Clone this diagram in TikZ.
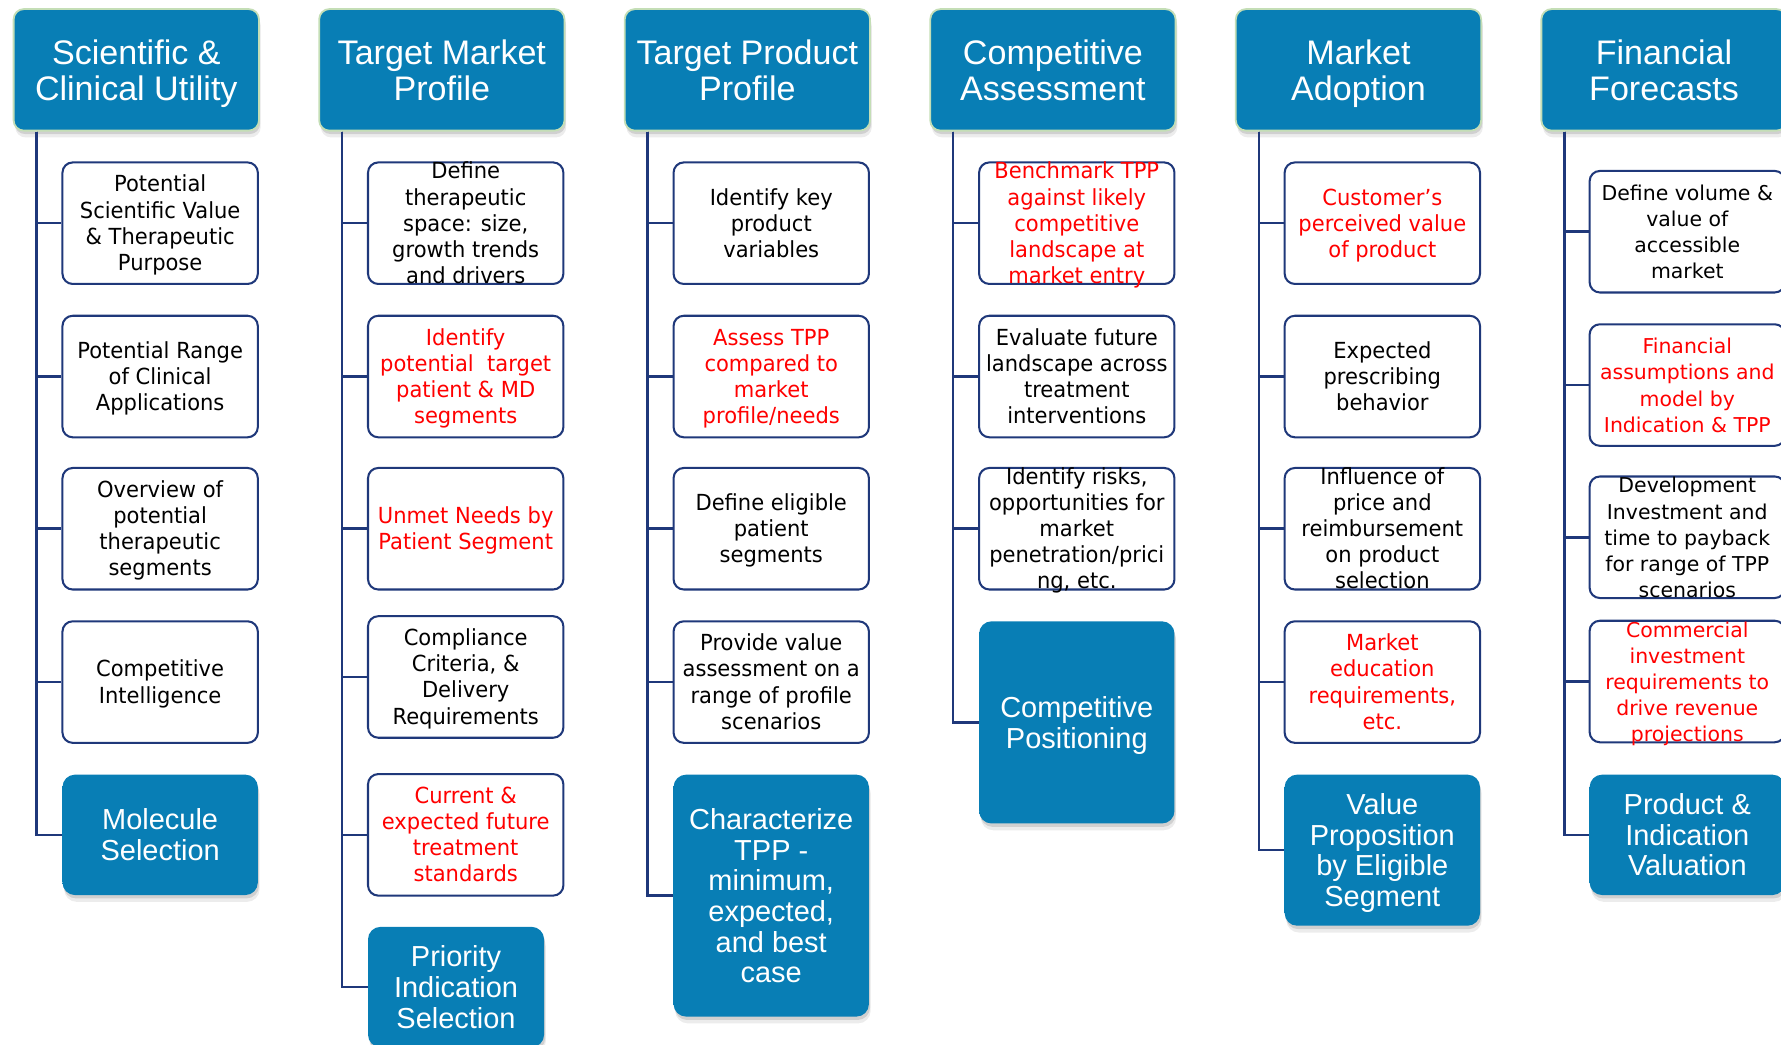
\documentclass[tikz,border=0pt]{standalone}
\usepackage{fontspec}
\setmainfont{Liberation Sans}
\newfontfamily\taskfam{DejaVu Sans}[FakeStretch=0.95]
\newfontfamily\widefam{DejaVu Sans}
\usetikzlibrary{shadows}

\definecolor{hblue}{RGB}{8,126,181}
\definecolor{hblueD}{RGB}{6,108,158}
\definecolor{hblueL}{RGB}{52,165,222}
\definecolor{rim}{RGB}{196,222,182}
\definecolor{navy}{RGB}{31,56,122}
\definecolor{alert}{RGB}{255,0,0}

\pgfdeclareverticalshading{tileshade}{100bp}{%
  color(0bp)=(hblueD); color(5bp)=(hblue); color(93bp)=(hblue);
  color(97bp)=(hblueL); color(100bp)=(hblueL)}

\newcommand\hdrfont{\fontsize{30}{32}\selectfont}
\newcommand\goalfont{\fontsize{25.5}{27}\selectfont}
\newcommand\taskfont{\taskfam\fontsize{19.5}{23}\selectfont}
\newcommand\widefont{\widefam\fontsize{18}{23}\selectfont}

% centred lines on a fixed pitch: every line box is #1 high and #2 deep,
% #3 is extra space on top, #4 the lines separated by \\
\newcommand\linestack[4]{%
  \vbox{\offinterlineskip\kern#3\relax
    \def\\{\cr}%
    \halign{\hfil\rule[-#2]{0pt}{\dimexpr#1+#2\relax}##\hfil\cr#4\crcr}}}
\newcommand\hstack[1]{\linestack{25pt}{7pt}{4pt}{#1}}
\newcommand\gstack[1]{\linestack{21.5pt}{5.5pt}{2.4pt}{#1}}
\newcommand\tstack[1]{\linestack{18pt}{5pt}{1pt}{#1}}

\tikzset{
  softshadow/.style={
    drop shadow={shadow xshift=1pt, shadow yshift=-3pt, opacity=0.18, fill=black!70},
    drop shadow={shadow xshift=1.5pt, shadow yshift=-6pt, opacity=0.12, fill=black!60}},
  hdr/.style={rounded corners=9pt, minimum width=216pt, minimum height=107pt,
    shading=tileshade, draw=rim, line width=1.6pt, text=white, font=\hdrfont,
    inner sep=0pt, softshadow},
  goal/.style={rounded corners=11pt, shading=tileshade, text=white,
    font=\goalfont, inner sep=0pt, softshadow},
  taskbox/.style={rounded corners=9pt, draw=navy, line width=1.8pt, fill=white,
    minimum width=172pt, minimum height=107pt, inner sep=0pt},
  lbl/.style={font=\taskfont, inner sep=0pt, text=black},
  wlbl/.style={lbl, font=\widefont},
  hot/.style={text=alert},
  spine/.style={draw=navy, line width=2.2pt}
}

% a bordered task tile with its text set on top (text may overflow the tile)
\newcommand\task[5]{%
  \node[taskbox] (#1) at (#2,#3) {};
  \node[#4] (#1-t) at (#1.center) {\tstack{#5}};}

\begin{document}
\begin{tikzpicture}[x=1pt, y=-1pt]
\useasboundingbox (0,0) rectangle (1568,920);
\clip (0,0) rectangle (1568,920);

% ---------- column headers ----------
\node[hdr] (h1) at (120,61.5)  {\hstack{Scientific \&\\Clinical Utility}};
\node[hdr] (h2) at (389,61.5)  {\hstack{Target Market\\Profile}};
\node[hdr] (h3) at (658,61.5)  {\hstack{Target Product\\Profile}};
\node[hdr] (h4) at (927,61.5)  {\hstack{Competitive\\Assessment}};
\node[hdr] (h5) at (1196,61.5) {\hstack{Market\\Adoption}};
\node[hdr] (h6) at (1465,61.5) {\hstack{Financial\\Forecasts}};

% ---------- Scientific & Clinical Utility ----------
\task{a1}{141}{196.5}{lbl}{Potential\\Scientific Value\\\& Therapeutic\\Purpose}
\task{a2}{141}{331.5}{lbl}{Potential Range\\of Clinical\\Applications}
\task{a3}{141}{465.5}{lbl}{Overview of\\potential\\therapeutic\\segments}
\task{a4}{141}{600.5}{lbl}{Competitive\\Intelligence}
\node[goal, minimum width=172pt, minimum height=106pt] (a5) at (141,735)
  {\gstack{Molecule\\Selection}};

% ---------- Target Market Profile ----------
\task{b1}{410}{196.5}{lbl}{Define\\therapeutic\\space: size,\\growth trends\\and drivers}
\task{b2}{410}{331.5}{lbl,hot}{Identify\\potential\ \ target\\patient \& MD\\segments}
\task{b3}{410}{465.5}{lbl,hot}{Unmet Needs by\\Patient Segment}
\task{b4}{410}{596}{lbl}{Compliance\\Criteria, \&\\Delivery\\Requirements}
\task{b5}{410}{735}{lbl,hot}{Current \&\\expected future\\treatment\\standards}
\node[goal, minimum width=155pt, minimum height=106pt] (b6) at (401.5,869)
  {\gstack{Priority\\Indication\\Selection}};

% ---------- Target Product Profile ----------
\task{c1}{679}{196.5}{lbl}{Identify key\\product\\variables}
\task{c2}{679}{331.5}{lbl,hot}{Assess TPP\\compared to\\market\\profile/needs}
\task{c3}{679}{465.5}{lbl}{Define eligible\\patient\\segments}
\task{c4}{679}{600.5}{lbl}{Provide value\\assessment on a\\range of profile\\scenarios}
\node[goal, minimum width=172pt, minimum height=213pt] (c5) at (679,788.5)
  {\gstack{Characterize\\TPP -\\minimum,\\expected,\\and best\\case}};

% ---------- Competitive Assessment ----------
\task{d1}{948}{196.5}{lbl,hot}{Benchmark TPP\\against likely\\competitive\\landscape at\\market entry}
\task{d2}{948}{331.5}{lbl}{Evaluate future\\landscape across\\treatment\\interventions}
\task{d3}{948}{465.5}{lbl}{Identify risks,\\opportunities for\\market\\penetration/prici\\ng, etc.}
\node[goal, minimum width=172pt, minimum height=178pt] (d4) at (948,636)
  {\gstack{Competitive\\Positioning}};

% ---------- Market Adoption ----------
\task{e1}{1217}{196.5}{lbl,hot}{Customer’s\\perceived value\\of product}
\task{e2}{1217}{331.5}{lbl}{Expected\\prescribing\\behavior}
\task{e3}{1217}{465.5}{lbl}{Influence of\\price and\\reimbursement\\on product\\selection}
\task{e4}{1217}{600.5}{lbl,hot}{Market\\education\\requirements,\\etc.}
\node[goal, minimum width=172pt, minimum height=133pt] (e5) at (1217,748.5)
  {\gstack{Value\\Proposition\\by Eligible\\Segment}};

% ---------- Financial Forecasts ----------
\task{f1}{1485.5}{204}{wlbl}{Define volume \&\\value of\\accessible\\market}
\task{f2}{1485.5}{339}{wlbl,hot}{Financial\\assumptions and\\model by\\Indication \& TPP}
\task{f3}{1485.5}{473}{wlbl}{Development\\Investment and\\time to payback\\for range of TPP\\scenarios}
\task{f4}{1485.5}{600}{wlbl,hot}{Commercial\\investment\\requirements to\\drive revenue\\projections}
\node[goal, minimum width=172pt, minimum height=106pt] (f5) at (1485.5,735)
  {\gstack{Product \&\\Indication\\Valuation}};

% ---------- spines from each header to its tiles ----------
\foreach \h in {1,...,6}
  \coordinate (s\h) at ([xshift=21pt]h\h.south west);

\foreach \t in {a1,a2,a3,a4,a5} \draw[spine] (s1) |- (\t.west);
\foreach \t in {b1,b2,b3,b4,b5,b6} \draw[spine] (s2) |- (\t.west);
\foreach \t in {c1,c2,c3,c4,c5} \draw[spine] (s3) |- (\t.west);
\foreach \t in {d1,d2,d3,d4} \draw[spine] (s4) |- (\t.west);
\foreach \t in {e1,e2,e3,e4,e5} \draw[spine] (s5) |- (\t.west);
\foreach \t in {f1,f2,f3,f4,f5} \draw[spine] (s6) |- (\t.west);
\end{tikzpicture}
\end{document}
